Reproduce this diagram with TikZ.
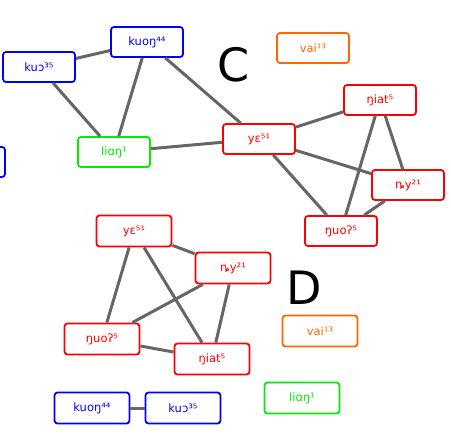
\documentclass[tikz,border=0pt]{standalone}
\usepackage{fontspec}
\setmainfont{DejaVu Sans}
\usepackage{xcolor}
\usepackage{tikz}
\definecolor{lienket}{HTML}{666666}
\definecolor{camC}{HTML}{FF6600}
\definecolor{xanhla}{HTML}{00EE00}
\tikzset{
  am/.style={draw,rounded corners=3pt,line width=1.8pt,fill=white,
    minimum width=72pt,minimum height=30pt,inner sep=2pt,
    font=\fontsize{11.5}{13}\selectfont},
  amD/.style={am,minimum width=75pt,minimum height=31pt},
  xanh/.style={draw=blue,text=blue},
  la/.style={draw=xanhla,text=xanhla},
  do/.style={draw=red,text=red},
  cam/.style={draw=camC,text=camC},
  canh/.style={lienket,line width=3pt}
}
\begin{document}
\begin{tikzpicture}[x=1pt,y=-1pt]
			\useasboundingbox (0,0) rectangle (451,434);
			% Nhóm C
			\node [am,xanh] (ckuo) at (39,67) {kuɔ³⁵};
			\node [am,xanh] (ckuong) at (147,42) {kuoŋ⁴⁴};
			\node [am,xanh] (cle) at (-31,162) {};
			\node [am,la] (cliang) at (114,152) {liɑŋ¹};
			\node [am,do] (cye) at (259,139) {yɛ⁵¹};
			\node [am,do] (cngiat) at (380,100) {ŋiat⁵};
			\node [am,do] (cny) at (408,185) {ȵy²¹};
			\node [am,do] (cnguo) at (341,231) {ŋuoʔ⁵};
			\node [am,cam] (cvai) at (313,48) {vai¹³};
			\node [font=\fontsize{46}{50}\selectfont] (nhanC) at (234,65) {C};
			\draw [canh] (ckuo) -- (ckuong);
			\draw [canh] (ckuo) -- (cliang);
			\draw [canh] (ckuong) -- (cliang);
			\draw [canh] (ckuong) -- (cye);
			\draw [canh] (cliang) -- (cye);
			\draw [canh] (cye) -- (cngiat);
			\draw [canh] (cye) -- (cny);
			\draw [canh] (cye) -- (cnguo);
			\draw [canh] (cngiat) -- (cny);
			\draw [canh] (cngiat) -- (cnguo);
			\draw [canh] (cny) -- (cnguo);
			% Nhóm D
			\node [amD,do] (dye) at (134,231) {yɛ⁵¹};
			\node [amD,do] (dny) at (233,268) {ȵy²¹};
			\node [amD,do] (dnguo) at (102,339) {ŋuoʔ⁵};
			\node [amD,do] (dngiat) at (212,359) {ŋiat⁵};
			\node [amD,cam] (dvai) at (320,331) {vai¹³};
			\node [amD,la] (dliang) at (302,398) {liɑŋ¹};
			\node [amD,xanh] (dkuong) at (92,408) {kuoŋ⁴⁴};
			\node [amD,xanh] (dkuo) at (183,408) {kuɔ³⁵};
			\node [font=\fontsize{46}{50}\selectfont] (nhanD) at (304,288) {D};
			\draw [canh] (dye) -- (dny);
			\draw [canh] (dye) -- (dnguo);
			\draw [canh] (dye) -- (dngiat);
			\draw [canh] (dny) -- (dnguo);
			\draw [canh] (dny) -- (dngiat);
			\draw [canh] (dnguo) -- (dngiat);
			\draw [canh] (dkuong) -- (dkuo);
		\end{tikzpicture}
\end{document}
